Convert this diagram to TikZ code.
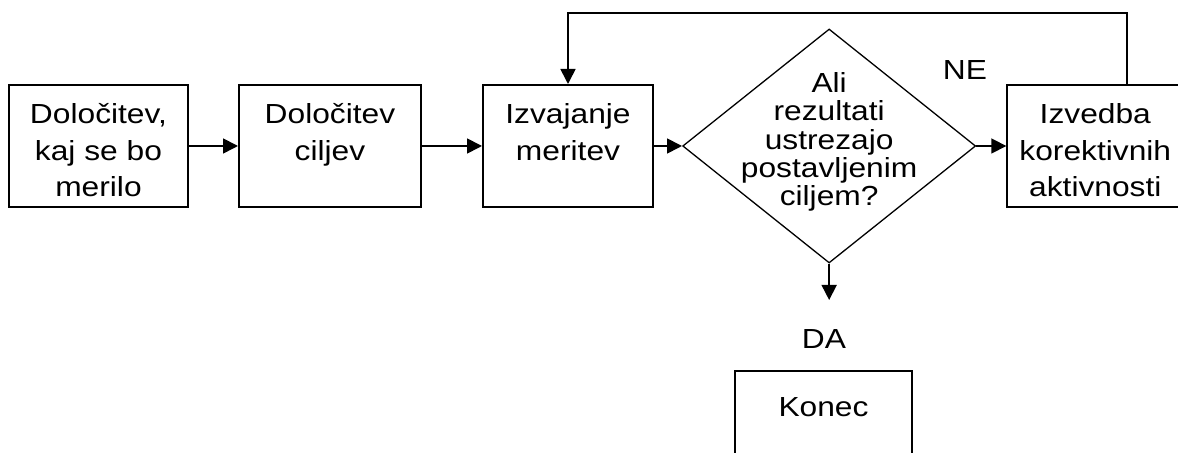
\documentclass[tikz,border=0pt]{standalone}
\usepackage{fontspec}
\setmainfont[FakeStretch=1.15]{Liberation Sans}
\usetikzlibrary{positioning,shapes.geometric,arrows.meta}

\begin{document}
\begin{tikzpicture}[>={Triangle[length=7.5pt,width=7.5pt]},line width=.85pt,every node/.style={align=center,font=\fontsize{13.8}{18.3}\selectfont},stepbox/.style={draw,line width=1pt,minimum height=61pt,inner sep=0pt,text height=51pt,text depth=0pt},decision/.style={draw,diamond,line width=.65pt,minimum width=146.5pt,minimum height=117pt,inner sep=0pt}]
\path[use as bounding box,clip] (0,0) rectangle (589pt,-226.5pt);
\node[stepbox,minimum width=89.5pt] (what) at (49.25pt,-73pt) {Določitev,\\kaj se bo\\merilo};
\node[stepbox,minimum width=91pt,right=24.5pt of what] (goals) {Določitev\\ciljev\\\mbox{}};
\node[stepbox,minimum width=85pt,right=30pt of goals] (meas) {Izvajanje\\meritev\\\mbox{}};
\node[decision,right=14pt of meas] (check) {};
\node[font=\fontsize{13.8}{14.2}\selectfont] (question) at ([yshift=2pt]check.center) {Ali\\rezultati\\ustrezajo\\postavljenim\\ciljem?};
\node[stepbox,minimum width=88pt,right=15pt of check] (fix) {Izvedba\\korektivnih\\aktivnosti};
\node (no) at (482.5pt,-35pt) {NE};
\node (yes) at (412pt,-169.5pt) {DA};
\node[stepbox,minimum width=88.5pt,anchor=north,text height=58pt] (end) at (411.75pt,-185pt) {Konec\\\mbox{}\\\mbox{}};
\coordinate (yesin) at (411.75pt,-150pt);
\coordinate (loop) at (0,-6.5pt);
\draw[->] (what)--(goals);\draw[->] (goals)--(meas);\draw[->] (meas)--(check);\draw[->] (check)--(fix);
\draw[->] (check.south)--(check.south |- yesin);
\draw[->] ([xshift=16pt]fix.north) |- (meas.north |- loop) -- (meas.north);
\end{tikzpicture}
\end{document}
